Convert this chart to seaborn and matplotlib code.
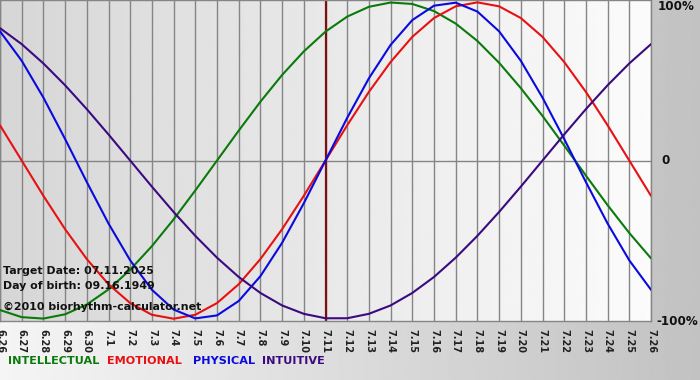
import numpy as np
import pandas as pd
import matplotlib
matplotlib.use("Agg")
import matplotlib.pyplot as plt
import seaborn as sns

# 日期标签 6.26 - 7.26
days = ["6.26", "6.27", "6.28", "6.29", "6.30"] + [f"7.{i}" for i in range(1, 27)]

# 各曲线的读数（-1 ~ 1）
intellectual = [-0.945, -0.990, -0.999, -0.972, -0.910, -0.815, -0.690, -0.541, -0.372, -0.189,
                0.0, 0.189, 0.372, 0.541, 0.690, 0.815, 0.910, 0.972, 0.999, 0.990,
                0.945, 0.866, 0.756, 0.618, 0.458, 0.282, 0.095, -0.095, -0.282, -0.458, -0.618]
emotional = [0.223, 0.0, -0.223, -0.434, -0.623, -0.782, -0.901, -0.975, -1.0, -0.975,
             -0.901, -0.782, -0.623, -0.434, -0.223, 0.0, 0.223, 0.434, 0.623, 0.782,
             0.901, 0.975, 1.0, 0.975, 0.901, 0.782, 0.623, 0.434, 0.223, 0.0, -0.223]
physical = [0.817, 0.631, 0.398, 0.136, -0.136, -0.398, -0.631, -0.817, -0.942, -0.998,
            -0.979, -0.888, -0.731, -0.520, -0.270, 0.0, 0.270, 0.520, 0.731, 0.888,
            0.979, 0.998, 0.942, 0.817, 0.631, 0.398, 0.136, -0.136, -0.398, -0.631, -0.817]
intuitive = [0.837, 0.736, 0.614, 0.476, 0.325, 0.165, 0.0, -0.165, -0.325, -0.476,
             -0.614, -0.736, -0.837, -0.916, -0.969, -0.997, -0.997, -0.969, -0.916, -0.837,
             -0.736, -0.614, -0.476, -0.325, -0.165, 0.0, 0.165, 0.325, 0.476, 0.614, 0.736]

target_idx = days.index("7.11")

names = ["INTELLECTUAL", "EMOTIONAL", "PHYSICAL", "INTUITIVE"]
colors = ["#0a7a0a", "#e81010", "#0a0ae0", "#3c0a80"]

df = pd.DataFrame({"day": range(len(days)),
                   "INTELLECTUAL": intellectual, "EMOTIONAL": emotional,
                   "PHYSICAL": physical, "INTUITIVE": intuitive})
long_df = df.melt(id_vars="day", var_name="curve", value_name="value")

sns.set_style("white")
plt.rcParams['font.family'] = ['DejaVu Sans']

fig = plt.figure(figsize=(7, 3.8), dpi=100)

# 整体背景渐变
bg = fig.add_axes([0, 0, 1, 1], zorder=-5)
grad = np.linspace(0.96, 0.76, 256).reshape(1, -1)
bg.imshow(grad, cmap="gray", vmin=0, vmax=1, aspect="auto", extent=[0, 1, 0, 1])
bg.axis("off")

ax = fig.add_axes([0, 0.155, 0.93, 0.845])
ax.set_xlim(0, len(days) - 1)
ax.set_ylim(-1.015, 1.015)

# 绘图区背景渐变
pgrad = np.linspace(0.84, 0.985, 256).reshape(1, -1)
ax.imshow(pgrad, cmap="gray", vmin=0, vmax=1, aspect="auto",
          extent=[0, len(days) - 1, -1.015, 1.015], zorder=0)

for i in range(len(days)):
    ax.axvline(i, color="#858585", lw=1, zorder=1)
ax.axhline(0, color="#858585", lw=1, zorder=1)
ax.axvline(target_idx, color="#7a1010", lw=1.6, zorder=2)

sns.lineplot(data=long_df, x="day", y="value", hue="curve", hue_order=names,
             palette=colors, lw=1.5, legend=False, ax=ax, zorder=3)

ax.set_xlabel("")
ax.set_ylabel("")
ax.set_xticks(range(len(days)))
ax.set_xticklabels(days, rotation=270, fontsize=7, fontweight="bold", color="#222222")
ax.tick_params(axis="x", length=4, color="#858585", pad=1.5)
ax.set_yticks([])
for s in ax.spines.values():
    s.set_color("#858585")
    s.set_linewidth(1)

# 右侧刻度文字
ax.text(1.011, 1.0, "100%", transform=ax.transAxes, ha="left", va="top",
        fontsize=8.6, fontweight="bold", color="#111111")
ax.text(1.016, 0.5, "0", transform=ax.transAxes, ha="left", va="center",
        fontsize=8.6, fontweight="bold", color="#111111")
ax.text(1.008, 0.0, "-100%", transform=ax.transAxes, ha="left", va="center",
        fontsize=8.6, fontweight="bold", color="#111111")

# 左下角信息
info = ["Target Date: 07.11.2025", "Day of birth: 09.16.1949", "\u00a92010 biorhythm-calculator.net"]
info_y = [271, 286, 307]
for t, yy in zip(info, info_y):
    fig.text(3 / 700, (380 - yy) / 380, t, fontsize=7.9, fontweight="bold",
             color="#111111", va="center")

# 底部图例文字
leg_x = [8, 107, 193, 262]
for name, c, xx in zip(names, colors, leg_x):
    fig.text(xx / 700, (380 - 361) / 380, name, fontsize=8.1, fontweight="bold",
             color=c, va="center")

fig.savefig("out.png", dpi=100)
